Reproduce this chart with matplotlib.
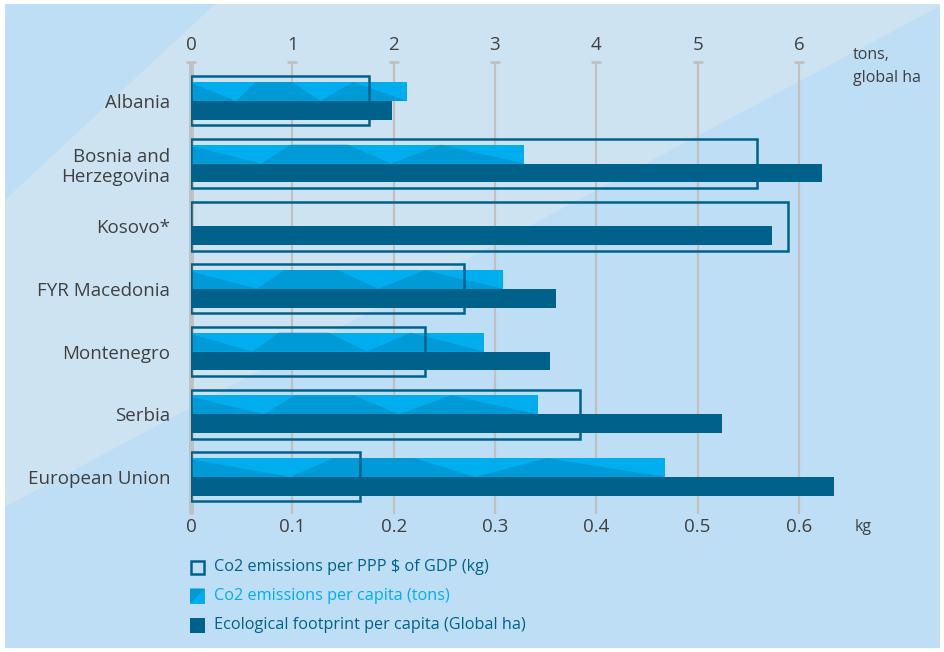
import numpy as np
import matplotlib
matplotlib.use("Agg")
import matplotlib.pyplot as plt
from matplotlib.patches import Polygon, Rectangle

# ---------------- data ----------------
countries = ["Albania", "Bosnia and\nHerzegovina", "Kosovo*", "FYR Macedonia",
             "Montenegro", "Serbia", "European Union"]
co2_per_gdp_kg = [0.176, 0.559, 0.589, 0.269, 0.231, 0.384, 0.167]
co2_per_capita_t = [2.13, 3.29, np.nan, 3.08, 2.89, 3.42, 4.68]
eco_footprint_gha = [1.98, 6.23, 5.73, 3.60, 3.54, 5.24, 6.35]
top_ticks = [0, 1, 2, 3, 4, 5, 6]
bottom_ticks = [0, 0.1, 0.2, 0.3, 0.4, 0.5, 0.6]
bottom_ticklabels = ["0", "0.1", "0.2", "0.3", "0.4", "0.5", "0.6"]
legend_labels = ["Co2 emissions per PPP $ of GDP (kg)",
                 "Co2 emissions per capita (tons)",
                 "Ecological footprint per capita (Global ha)"]

# ---------------- style ----------------
DARK = "#00628b"
LIGHT = "#00aeef"
LIGHT2 = "#009ad6"
GRID = "#c0c0c0"
TXT = "#404040"
BG_DARK = "#bddef4"
BG_LIGHT = "#cee3f1"

plt.rcParams['font.family'] = ['Open Sans', 'DejaVu Sans']

W, H = 944, 652
fig = plt.figure(figsize=(W / 100, H / 100), dpi=100, facecolor="white")

def fp(x, y):
    return (x / W, 1 - y / H)

# background
fig.add_artist(Rectangle(fp(5, 648), 935 / W, 644 / H, transform=fig.transFigure,
                         facecolor=BG_DARK, edgecolor="none", zorder=-10))
band = [fp(215, 4), fp(940, 4), fp(940, 6), fp(5, 507), fp(5, 200)]
fig.add_artist(Polygon(band, closed=True, transform=fig.transFigure,
                       facecolor=BG_LIGHT, edgecolor="none", zorder=-9))

# axes: x 0 -> px 191, 1 unit = 101.33 px
unit = 101.33
xmax = 6.5
ax_left, ax_top, ax_bot = 191, 62, 512
ax = fig.add_axes([ax_left / W, 1 - ax_bot / H, xmax * unit / W, (ax_bot - ax_top) / H])
ax.set_facecolor("none")
ax2 = ax.twiny()
ax2.set_facecolor("none")
ax.xaxis.set_ticks_position('top')
ax2.xaxis.set_ticks_position('bottom')
ax2.xaxis.set_label_position('bottom')

ytop, ybot = -0.62, 6.56
ax.set_ylim(ybot, ytop)
ax.set_xlim(0, xmax)
ax2.set_xlim(0, xmax / 10)

for a in (ax, ax2):
    for s in a.spines.values():
        s.set_visible(False)

# grid
for t in top_ticks:
    lw = 3.5 if t == 0 else 1.6
    ax.plot([t, t], [ytop, ybot + 0.03], color=GRID, lw=lw, zorder=1,
            solid_capstyle='butt', clip_on=False)
    ax.plot([t - 0.05, t + 0.05], [ytop, ytop], color=GRID, lw=2, zorder=1,
            solid_capstyle='butt', clip_on=False)

y = np.arange(len(countries))
bh = 0.30
# light bars with faceted pattern
for yi, v in zip(y, co2_per_capita_t):
    if np.isnan(v):
        continue
    ax.barh(yi - bh / 2, v, height=bh, color=LIGHT, zorder=3, linewidth=0)
    yt, yb = yi - bh, yi
    pts = [(0, yt + 0.02), (0.21 * v, yb), (0.30 * v, yt), (0.47 * v, yt),
           (0.60 * v, yb), (0.75 * v, yt), (v, yb), (0, yb)]
    ax.add_patch(Polygon(pts, closed=True, facecolor=LIGHT2, edgecolor="none", zorder=3.5))

ax.barh(y + bh / 2, eco_footprint_gha, height=bh, color=DARK, zorder=4, linewidth=0)
ax2.barh(y, co2_per_gdp_kg, height=0.78, facecolor="none", edgecolor=DARK,
         linewidth=1.8, zorder=5)

# ticks
ax.set_xticks(top_ticks)
ax.set_xticklabels([str(t) for t in top_ticks], fontsize=13.5, color=TXT)
ax.tick_params(axis='x', length=0, pad=6)
ax2.set_xticks(bottom_ticks)
ax2.set_xticklabels(bottom_ticklabels, fontsize=13.5, color=TXT)
ax2.tick_params(axis='x', length=0, pad=4)
ax.set_yticks(y)
ax.set_yticklabels(countries, fontsize=13.5, color=TXT)
ax.tick_params(axis='y', length=0, pad=15)

# unit labels
fig.text(853 / W, 1 - 55 / H, "tons,", fontsize=11.5, color=TXT, va='center', ha='left')
fig.text(853 / W, 1 - 78 / H, "global ha", fontsize=11.5, color=TXT, va='center', ha='left')
fig.text(855 / W, 1 - 527 / H, "kg", fontsize=11.5, color=TXT, va='center', ha='left')

# legend
lx, lsz = 190, 15
centers = [567, 596, 625]
fig.add_artist(Rectangle(fp(lx + 1, centers[0] + lsz / 2 - 1), (lsz - 2) / W, (lsz - 2) / H,
                         transform=fig.transFigure, facecolor="none", edgecolor=DARK, lw=1.8))
c = centers[1]
fig.add_artist(Rectangle(fp(lx, c + lsz / 2), lsz / W, lsz / H, transform=fig.transFigure,
                         facecolor=LIGHT, edgecolor="none"))
fig.add_artist(Polygon([fp(lx, c - lsz / 2), fp(lx + lsz, c - lsz / 2), fp(lx, c + lsz / 2)],
                       closed=True, transform=fig.transFigure, facecolor=LIGHT2, edgecolor="none"))
fig.add_artist(Rectangle(fp(lx, centers[2] + lsz / 2), lsz / W, lsz / H, transform=fig.transFigure,
                         facecolor=DARK, edgecolor="none"))
for c, lab, col in zip(centers, legend_labels, [DARK, LIGHT, DARK]):
    fig.text(214 / W, 1 - c / H, lab, fontsize=11.7, color=col, va='center', ha='left')

fig.savefig("out.png", dpi=100, facecolor="white")
